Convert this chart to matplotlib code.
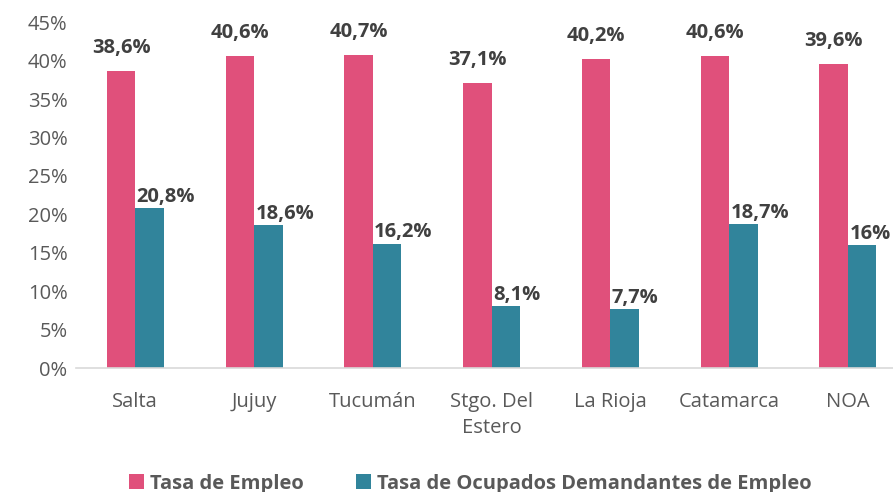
import matplotlib.pyplot as plt
import numpy as np
from matplotlib.ticker import FuncFormatter

plt.rcParams['font.family'] = ['Open Sans', 'DejaVu Sans']

provincias = ['Salta', 'Jujuy', 'Tucumán', 'Stgo. Del\nEstero', 'La Rioja', 'Catamarca', 'NOA']
empleo = [38.6, 40.6, 40.7, 37.1, 40.2, 40.6, 39.6]
demandantes = [20.8, 18.6, 16.2, 8.1, 7.7, 18.7, 16.0]
etiq_empleo = ['38,6%', '40,6%', '40,7%', '37,1%', '40,2%', '40,6%', '39,6%']
etiq_demand = ['20,8%', '18,6%', '16,2%', '8,1%', '7,7%', '18,7%', '16%']

pink = '#E0507B'
teal = '#31849B'
gray = '#595959'

fig = plt.figure(figsize=(8.93, 4.92), dpi=100)
ax = fig.add_axes([0.085, 0.252, 0.915, 0.703])

x = np.arange(len(provincias))
w = 0.24
ax.bar(x - w / 2, empleo, w, color=pink, label='Tasa de Empleo')
ax.bar(x + w / 2, demandantes, w, color=teal, label='Tasa de Ocupados Demandantes de Empleo')

# pink labels centred above the bar, teal labels start at the bar's left edge
for i in range(len(x)):
    ax.annotate(etiq_empleo[i], (x[i] - w / 2, empleo[i]), xytext=(0, 13),
                textcoords='offset points', ha='center', va='baseline',
                fontsize=14.5, fontweight='bold', color='#404040')
    ax.annotate(etiq_demand[i], (x[i], demandantes[i]), xytext=(1, 4.5),
                textcoords='offset points', ha='left', va='baseline',
                fontsize=14.5, fontweight='bold', color='#404040')

ax.set_xlim(-0.5, 6.38)
ax.set_ylim(0, 45)
ax.set_yticks(np.arange(0, 46, 5))
ax.yaxis.set_major_formatter(FuncFormatter(lambda v, p: f'{v:.0f}%'))
ax.set_xticks(x)
ax.set_xticklabels(provincias, linespacing=1.4)
ax.tick_params(axis='both', length=0, labelsize=14.5, labelcolor=gray)
ax.tick_params(axis='x', pad=17)
ax.tick_params(axis='y', pad=6)

for s in ['top', 'right', 'left']:
    ax.spines[s].set_visible(False)
ax.spines['bottom'].set_color('#D9D9D9')
ax.spines['bottom'].set_linewidth(1.2)

fig.legend(loc='lower center', bbox_to_anchor=(0.527, -0.04), ncol=2, frameon=False,
           handlelength=0.75, handleheight=0.75, handletextpad=0.3, columnspacing=2.6,
           prop={'size': 14.5, 'weight': 'bold'}, labelcolor=gray)

plt.savefig('out.png', dpi=100)
